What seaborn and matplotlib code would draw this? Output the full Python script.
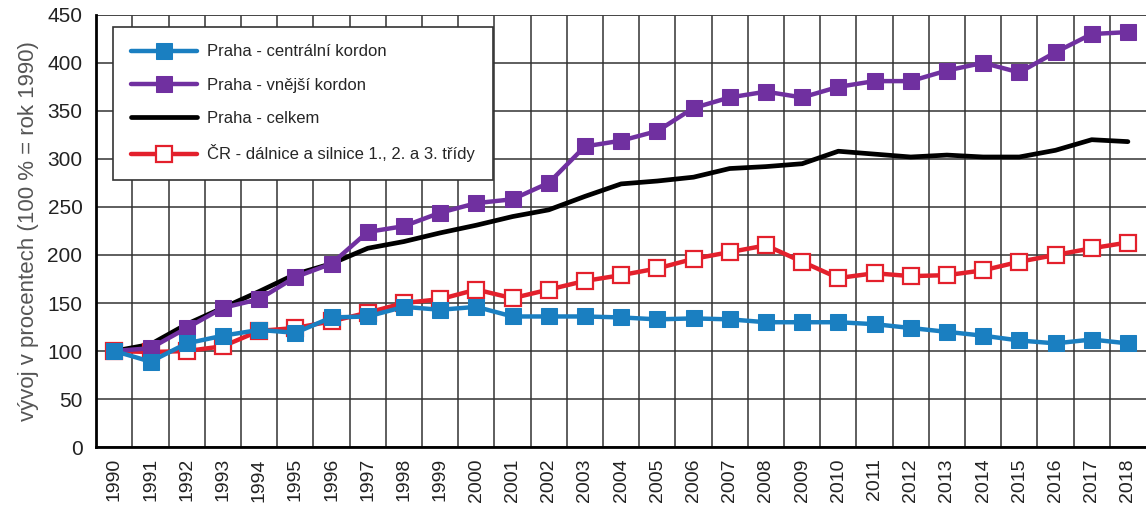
import seaborn as sns
import matplotlib.pyplot as plt
from matplotlib.ticker import MultipleLocator, FixedLocator

years = list(range(1990, 2019))

centralni = [100, 89, 108, 116, 122, 119, 135, 136, 146, 143, 146, 136, 136, 136, 135,
             133, 134, 133, 130, 130, 130, 128, 124, 120, 116, 111, 108, 112, 108]
vnejsi = [100, 103, 124, 145, 154, 177, 191, 224, 230, 244, 254, 258, 275, 313, 319,
          329, 353, 364, 370, 364, 375, 381, 381, 392, 400, 390, 411, 430, 432]
celkem = [100, 107, 128, 145, 162, 180, 191, 207, 214, 223, 231, 240, 247, 261, 274,
          277, 281, 290, 292, 295, 308, 305, 302, 304, 302, 302, 309, 320, 318]
cr = [100, 99, 100, 105, 121, 124, 131, 140, 150, 154, 164, 155, 164, 173, 179,
      186, 196, 203, 210, 193, 176, 181, 178, 179, 184, 193, 200, 207, 213]

labels = ['Praha - centrální kordon', 'Praha - vnější kordon',
          'Praha - celkem', 'ČR - dálnice a silnice 1., 2. a 3. třídy']

sns.set_theme(style='white')
plt.rcParams['font.family'] = ['Liberation Sans Narrow', 'Liberation Sans', 'DejaVu Sans']

fig = plt.figure(figsize=(11.46, 5.11), dpi=100)
ax = fig.add_axes([0.084, 0.125, 0.916, 0.846])

blue = '#1a7fc1'
purple = '#7030a0'
red = '#e3202c'

sns.lineplot(x=years, y=celkem, ax=ax, color='black', lw=3.4, label=labels[2], zorder=3)
sns.lineplot(x=years, y=cr, ax=ax, color=red, lw=3.2, marker='s', markersize=11,
             markerfacecolor='white', markeredgecolor=red, markeredgewidth=1.6,
             label=labels[3], zorder=4)
sns.lineplot(x=years, y=vnejsi, ax=ax, color=purple, lw=3.2, marker='s', markersize=11,
             markeredgecolor=purple, label=labels[1], zorder=5)
sns.lineplot(x=years, y=centralni, ax=ax, color=blue, lw=3.2, marker='s', markersize=11,
             markeredgecolor=blue, label=labels[0], zorder=6)

ax.set_xlim(1989.5, 2018.5)
ax.set_ylim(0, 450)
ax.xaxis.set_major_locator(FixedLocator(years))
ax.xaxis.set_minor_locator(FixedLocator([y + 0.5 for y in years[:-1]]))
ax.yaxis.set_major_locator(MultipleLocator(50))
ax.set_xticks(years)
ax.set_xticklabels([str(y) for y in years], rotation=90, fontsize=14, color='#222222')
ax.tick_params(axis='y', labelsize=15, colors='#222222', length=0, pad=10)
ax.tick_params(axis='x', length=0, pad=8)

ax.grid(False)
ax.grid(True, axis='x', which='minor', color='#333333', lw=1.1)
ax.grid(True, axis='y', which='major', color='#333333', lw=1.1)
for side in ['top', 'right']:
    ax.spines[side].set_visible(False)
ax.axhline(450, color='#444444', lw=1.2, zorder=1)
for side in ['left', 'bottom']:
    ax.spines[side].set_color('black')
    ax.spines[side].set_linewidth(2)

ax.set_ylabel('vývoj v procentech (100 % = rok 1990)', fontsize=16, color='#555555', labelpad=6)
ax.set_xlabel('')

handles, labs = ax.get_legend_handles_labels()
order = [labs.index(l) for l in labels]
leg = ax.legend([handles[i] for i in order], [labs[i] for i in order],
                loc='upper left', bbox_to_anchor=(0.016, 0.972), fontsize=12,
                handlelength=4.0, handletextpad=0.6, frameon=True, fancybox=False,
                framealpha=1, edgecolor='#333333', borderpad=1.05, labelspacing=1.1,
                borderaxespad=0)
leg.get_frame().set_linewidth(1.2)
leg.set_zorder(10)

fig.savefig('out.png', dpi=100)
